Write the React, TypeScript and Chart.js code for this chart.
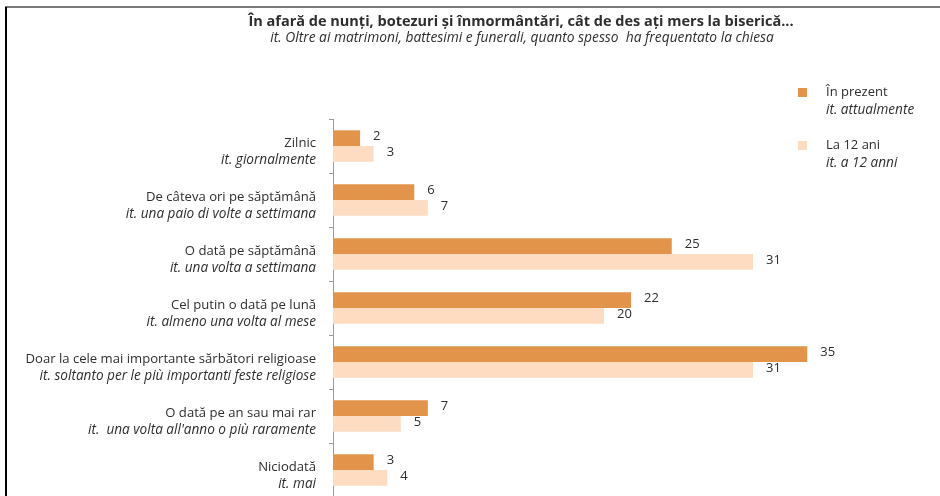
import React, { useEffect, useRef } from "react";
import { Chart, registerables } from "chart.js";

Chart.register(...registerables);

const chartTitle = "În afară de nunți, botezuri și înmormântări, cât de des ați mers la biserică...";
const chartSubtitle = "it. Oltre ai matrimoni, battesimi e funerali, quanto spesso  ha frequentato la chiesa";

const categories = [
  "Zilnic",
  "De câteva ori pe săptămână",
  "O dată pe săptămână",
  "Cel putin o dată pe lună",
  "Doar la cele mai importante sărbători religioase",
  "O dată pe an sau mai rar",
  "Niciodată",
];
const categoriesIt = [
  "it. giornalmente",
  "it. una paio di volte a settimana",
  "it. una volta a settimana",
  "it. almeno una volta al mese",
  "it. soltanto per le più importanti feste religiose",
  "it.  una volta all'anno o più raramente",
  "it. mai",
];
const presentValues = [2, 6, 25, 22, 35, 7, 3];
const age12Values = [3, 7, 31, 20, 31, 5, 4];
const seriesNames = ["În prezent", "La 12 ani"];
const seriesNamesIt = ["it. attualmente", "it. a 12 anni"];

const DARK = "#E3944B";
const LIGHT = "#FDDCC2";
const TEXT = "#2e2e2e";
const FONT = "'Open Sans', Lato, sans-serif";

const overlayPlugin = {
  id: "overlay",
  beforeDraw(chart: any) {
    const ctx = chart.ctx;
    ctx.save();
    ctx.fillStyle = "#ffffff";
    ctx.fillRect(0, 0, chart.width, chart.height);
    ctx.fillStyle = "#7a7a7a";
    ctx.fillRect(5, 6, chart.width - 5, 2);
    ctx.fillStyle = "#000000";
    ctx.fillRect(5, 7, 2, chart.height - 7);
    ctx.restore();
  },
  afterDraw(chart: any) {
    const ctx = chart.ctx;
    ctx.save();
    ctx.fillStyle = TEXT;
    ctx.textBaseline = "middle";

    // title
    ctx.textAlign = "center";
    ctx.font = `bold 14.5px ${FONT}`;
    ctx.fillText(chartTitle, 521, 22);
    ctx.font = `italic 13.8px ${FONT}`;
    ctx.fillText(chartSubtitle, 522, 38);

    // category labels
    const yScale = chart.scales.y;
    ctx.textAlign = "right";
    categories.forEach((c, i) => {
      const y = yScale.getPixelForValue(i);
      ctx.font = `13.1px ${FONT}`;
      ctx.fillText(c, 316, y - 3);
      ctx.font = `italic 13.6px ${FONT}`;
      ctx.fillText(categoriesIt[i], 316, y + 14);
    });

    // value labels
    ctx.textAlign = "left";
    ctx.font = `13px ${FONT}`;
    chart.data.datasets.forEach((ds: any, di: number) => {
      const meta = chart.getDatasetMeta(di);
      meta.data.forEach((bar: any, i: number) => {
        ctx.fillText(String(ds.data[i]), bar.x + 13, bar.y - 2);
      });
    });

    // legend
    const legendColors = [DARK, LIGHT];
    const legendTops = [88, 141];
    legendTops.forEach((top, i) => {
      ctx.fillStyle = legendColors[i];
      ctx.fillRect(798, top, 9, 9);
      ctx.fillStyle = TEXT;
      ctx.font = `13px ${FONT}`;
      ctx.fillText(seriesNames[i], 826, top + 4);
      ctx.font = `italic 13.6px ${FONT}`;
      ctx.fillText(seriesNamesIt[i], 826, top + 22);
    });
    ctx.restore();
  },
};

export default function App() {
  const ref = useRef<HTMLCanvasElement | null>(null);
  useEffect(() => {
    if (!ref.current) return;
    const chart = new Chart(ref.current, {
      type: "bar",
      data: {
        labels: categories,
        datasets: [
          { label: seriesNames[0], data: presentValues, backgroundColor: DARK, barPercentage: 1, categoryPercentage: 0.58 },
          { label: seriesNames[1], data: age12Values, backgroundColor: LIGHT, barPercentage: 1, categoryPercentage: 0.58 },
        ],
      },
      options: {
        indexAxis: "y",
        responsive: false,
        animation: false,
        layout: { padding: { top: 119, bottom: 3, left: 0, right: 65 } },
        plugins: { legend: { display: false }, tooltip: { enabled: false }, title: { display: false } },
        scales: {
          x: { display: false, min: 0, max: 40 },
          y: {
            afterFit: (s: any) => {
              s.width = 333;
            },
            ticks: { display: false },
            grid: { drawOnChartArea: false, drawTicks: true, tickLength: 4, color: "#9a9a9a" },
            border: { display: true, color: "#9a9a9a" },
          },
        },
      },
      plugins: [overlayPlugin],
    } as any);
    return () => chart.destroy();
  }, []);
  return (
    <div style={{ position: "absolute", left: 0, top: 0, width: 940, height: 496, overflow: "hidden", background: "#fff" }}>
      <canvas ref={ref} width={940} height={500} />
    </div>
  );
}
